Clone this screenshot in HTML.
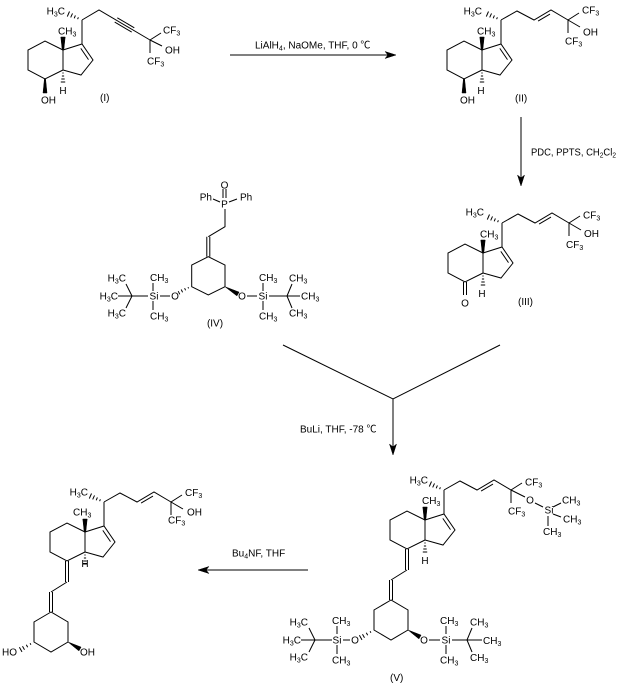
<!DOCTYPE html>
<html>
<head>
<meta charset="utf-8">
<style>
html,body{margin:0;padding:0;background:#fff;}
svg{display:block;}
path,line{stroke:#000;fill:none;stroke-width:1;}
polygon{fill:#000;stroke:#000;stroke-width:0.5;}
text{font-family:"Liberation Sans","Noto Sans CJK SC",Arial,sans-serif;font-size:10px;fill:#000;}
.s{font-size:7px;}
</style>
</head>
<body>
<svg width="618" height="690" viewBox="0 0 618 690" xmlns="http://www.w3.org/2000/svg">
<rect width="618" height="690" fill="#fff"/>

<!-- ===== Structure I ===== -->
<g transform="translate(63,50)">
  <path d="M0,0 L19,-6 L30,10 L18,25 L0,20 Z M0,0 L-18,-9 L-35,0 L-35,20 L-18,29 L0,20 M19,-6 L19,-30 M17.8,-1.6 L25.5,9.6"/>
  <polygon points="-0.8,0 0.8,0 2.2,-13 -2.2,-13"/>
  <path d="M-0.6,23 L0.6,23 M-1.1,26 L1.1,26 M-1.7,29 L1.7,29 M-2.2,32 L2.2,32"/>
  <path d="M15.4,-32.7 L14.6,-30.8 M12.4,-34.6 L11.2,-31.7 M9.5,-36.6 L7.7,-32.6 M6.5,-38.5 L4.3,-33.4"/>
  <text x="-5" y="-15.5">CH<tspan class="s" dy="2">3</tspan></text>
  <text x="0" y="44" text-anchor="middle">H</text>
  <text x="2" y="-35.5" text-anchor="end">H<tspan class="s" dy="2">3</tspan><tspan dy="-2">C</tspan></text>
  <path d="M19,-30 L36,-40 L87,-10 M51.7,-27.9 L68.7,-17.9 M54.3,-32.2 L71.3,-22.2"/>
  <path d="M87,-10 L98,-17 M87,-10 L99,-4 M87,-10 L87,3"/>
  <text x="100" y="-16.5">CF<tspan class="s" dy="2">3</tspan></text>
  <text x="102" y="3.5">OH</text>
  <text x="84" y="14.5">CF<tspan class="s" dy="2">3</tspan></text>
  <polygon points="-18.6,29 -17.4,29 -16,43 -20,43"/>
  <text x="-22" y="53.5">OH</text>
</g>
<text x="100" y="101">(I)</text>

<!-- ===== Structure II ===== -->
<g transform="translate(482,50)">
  <path d="M0,0 L19,-6 L30,10 L18,25 L0,20 Z M0,0 L-18,-9 L-35,0 L-35,20 L-18,29 L0,20 M19,-6 L19,-30 M17.8,-1.6 L25.5,9.6"/>
  <polygon points="-0.8,0 0.8,0 2.2,-13 -2.2,-13"/>
  <path d="M-0.6,23 L0.6,23 M-1.1,26 L1.1,26 M-1.7,29 L1.7,29 M-2.2,32 L2.2,32"/>
  <path d="M15.4,-32.7 L14.6,-30.8 M12.4,-34.6 L11.2,-31.7 M9.5,-36.6 L7.7,-32.6 M6.5,-38.5 L4.3,-33.4"/>
  <text x="-5" y="-15.5">CH<tspan class="s" dy="2">3</tspan></text>
  <text x="-1" y="44" text-anchor="middle">H</text>
  <text x="0" y="-35.5" text-anchor="end">H<tspan class="s" dy="2">3</tspan><tspan dy="-2">C</tspan></text>
  <path d="M19,-30 L35,-39 L52,-30 L69,-40 L86,-30 M56.1,-28.9 L68,-35.9"/>
  <path d="M86,-30 L97,-37 M86,-30 L98,-23 M86,-30 L86,-17"/>
  <text x="100" y="-36.5">CF<tspan class="s" dy="2">3</tspan></text>
  <text x="101" y="-14.5">OH</text>
  <text x="83" y="-5.5">CF<tspan class="s" dy="2">3</tspan></text>
  <polygon points="-18.6,29 -17.4,29 -16,43 -20,43"/>
  <text x="-22" y="53.5">OH</text>
</g>
<text x="515" y="101.5">(II)</text>

<!-- ===== Arrow 1 ===== -->
<path d="M230,55 L388,55"/>
<polygon points="396,55 385,51.5 388,55 385,58.5"/>
<text x="255" y="48.5">LiAlH<tspan class="s" dy="2">4</tspan><tspan dy="-2">, NaOMe, THF, 0 ℃</tspan></text>

<!-- ===== Arrow 2 ===== -->
<path d="M521,117 L521,178"/>
<polygon points="521,186 517.5,175 521,178 524.5,175"/>
<text x="531" y="155.5" textLength="85" lengthAdjust="spacingAndGlyphs">PDC, PPTS, CH<tspan class="s" dy="2">2</tspan><tspan dy="-2">Cl</tspan><tspan class="s" dy="2">2</tspan></text>

<!-- ===== Structure III ===== -->
<g transform="translate(483,253)">
  <path d="M0,0 L19,-6 L30,10 L18,25 L0,20 Z M0,0 L-18,-9 L-35,0 L-35,20 L-18,29 L0,20 M19,-6 L19,-30 M17.8,-1.6 L25.5,9.6"/>
  <polygon points="-0.8,0 0.8,0 2.2,-13 -2.2,-13"/>
  <path d="M-0.6,23 L0.6,23 M-1.1,26 L1.1,26 M-1.7,29 L1.7,29 M-2.2,32 L2.2,32"/>
  <path d="M15.4,-32.7 L14.6,-30.8 M12.4,-34.6 L11.2,-31.7 M9.5,-36.6 L7.7,-32.6 M6.5,-38.5 L4.3,-33.4"/>
  <text x="-3" y="-15.5">CH<tspan class="s" dy="2">3</tspan></text>
  <text x="-1" y="44" text-anchor="middle">H</text>
  <text x="1" y="-37.5" text-anchor="end">H<tspan class="s" dy="2">3</tspan><tspan dy="-2">C</tspan></text>
  <path d="M19,-30 L35,-39 L52,-30 L69,-40 L86,-30 M56.1,-28.9 L68,-35.9"/>
  <path d="M86,-30 L97,-37 M86,-30 L98,-23 M86,-30 L86,-17"/>
  <text x="100" y="-34.5">CF<tspan class="s" dy="2">3</tspan></text>
  <text x="101" y="-16">OH</text>
  <text x="83" y="-5">CF<tspan class="s" dy="2">3</tspan></text>
  <path d="M-19.5,29 L-19.5,42 M-16.5,29 L-16.5,42"/>
  <text x="-18" y="53.5" text-anchor="middle">O</text>
</g>
<text x="518" y="305">(III)</text>

<!-- ===== Structure IV ===== -->
<path d="M206.8,236.7 L206.8,256.7 M209.8,236.7 L209.8,256.7"/>
<path d="M208.3,236.7 L225,226.7 L225,209"/>
<text x="224.5" y="207.5" text-anchor="middle">P</text>
<path d="M223,198 L223,189 M226,198 L226,189"/>
<text x="224.5" y="188.5" text-anchor="middle">O</text>
<path d="M213,199 L220,202 M229,202 L237,199"/>
<text x="212" y="200.5" text-anchor="end">Ph</text>
<text x="240" y="200.5">Ph</text>
<path d="M208.3,256.7 L191.7,265 L191.7,286.7 L208.3,295 L225,286.7 L225,265 Z"/>
<path d="M188.6,288.4 L188,287.2 M185.6,290.3 L184.6,288.2 M182.6,292.3 L181.2,289.5 M179.8,294.3 L178.2,291.2"/>
<text x="175" y="299.5" text-anchor="middle">O</text>
<path d="M170,296 L160,296"/>
<text x="154" y="299.5" text-anchor="middle">Si</text>
<path d="M153,291 L153,283 M153,301 L153,310"/>
<text x="150" y="281">CH<tspan class="s" dy="2">3</tspan></text>
<text x="150" y="319.5">CH<tspan class="s" dy="2">3</tspan></text>
<path d="M148,296 L132,296 M132,296 L126,284 M132,296 L118,296 M132,296 L126,308"/>
<text x="126" y="281.5" text-anchor="end">H<tspan class="s" dy="2">3</tspan><tspan dy="-2">C</tspan></text>
<text x="118" y="299.5" text-anchor="end">H<tspan class="s" dy="2">3</tspan><tspan dy="-2">C</tspan></text>
<text x="126" y="316.5" text-anchor="end">H<tspan class="s" dy="2">3</tspan><tspan dy="-2">C</tspan></text>
<polygon points="225,286.7 236.9,295.9 239.1,292.1"/>
<text x="242" y="299.5" text-anchor="middle">O</text>
<path d="M247,296 L257,296"/>
<text x="263" y="299.5" text-anchor="middle">Si</text>
<path d="M263,291 L263,283 M263,301 L263,310"/>
<text x="259" y="281">CH<tspan class="s" dy="2">3</tspan></text>
<text x="259" y="319.5">CH<tspan class="s" dy="2">3</tspan></text>
<path d="M269,296 L287,296 M287,296 L292,284 M287,296 L300,296 M287,296 L292,308"/>
<text x="289" y="281.5">CH<tspan class="s" dy="2">3</tspan></text>
<text x="301" y="299.5">CH<tspan class="s" dy="2">3</tspan></text>
<text x="289" y="316.5">CH<tspan class="s" dy="2">3</tspan></text>
<text x="215" y="326.5" text-anchor="middle">(IV)</text>

<!-- ===== Converging arrow ===== -->
<path d="M283,345 L393,399 L500,345 M393,399 L393,447"/>
<polygon points="393,455 389.5,444 393,447 396.5,444"/>
<text x="300" y="432.5">BuLi, THF, -78 ℃</text>

<!-- ===== Structure V ===== -->
<g transform="translate(425,520)">
  <path d="M0,0 L19,-6 L30,10 L18,25 L0,20 Z M0,0 L-18,-9 L-35,0 L-35,20 L-18,29 L0,20 M19,-6 L19,-30 M17.8,-1.6 L25.5,9.6"/>
  <polygon points="-0.8,0 0.8,0 2.2,-13 -2.2,-13"/>
  <path d="M-0.6,23 L0.6,23 M-1.1,26 L1.1,26 M-1.7,29 L1.7,29 M-2.2,32 L2.2,32"/>
  <path d="M15.4,-32.7 L14.6,-30.8 M12.4,-34.6 L11.2,-31.7 M9.5,-36.6 L7.7,-32.6 M6.5,-38.5 L4.3,-33.4"/>
  <text x="-3" y="-16">CH<tspan class="s" dy="2">3</tspan></text>
  <text x="0" y="44" text-anchor="middle">H</text>
  <text x="3" y="-36.5" text-anchor="end">H<tspan class="s" dy="2">3</tspan><tspan dy="-2">C</tspan></text>
  <path d="M19,-30 L35,-39 L52,-30 L69,-40 L86,-30 M56.1,-28.9 L68,-35.9"/>
  <path d="M86,-30 L97,-37 M86,-30 L100,-23 M86,-30 L86,-17"/>
  <text x="100" y="-34.5">CF<tspan class="s" dy="2">3</tspan></text>
  <text x="105" y="-16.5" text-anchor="middle">O</text>
  <path d="M110,-17 L118,-13"/>
  <text x="124" y="-6.5" text-anchor="middle">Si</text>
  <path d="M128,-13 L136,-17 M128,-6 L136,-3 M123,-4 L123,6"/>
  <text x="137" y="-16.5">CH<tspan class="s" dy="2">3</tspan></text>
  <text x="138" y="2.5">CH<tspan class="s" dy="2">3</tspan></text>
  <text x="118" y="15">CH<tspan class="s" dy="2">3</tspan></text>
  <text x="83" y="-5.5">CF<tspan class="s" dy="2">3</tspan></text>
  <path d="M-19.5,29 L-19.5,50 M-16.5,29 L-16.5,50 M-18,50 L-34,60 M-35.5,60 L-35.5,80 M-32.5,60 L-32.5,80"/>
  <path d="M-34,80 L-51,90 L-51,110 L-34,120 L-17,110 L-17,90 Z"/>
</g>
<path d="M370.9,632.7 L370.1,631.3 M367.7,635.2 L366.3,632.8 M364.5,637.7 L362.5,634.3 M362,639.9 L359.4,635.3"/>
<text x="355" y="643.5" text-anchor="middle">O</text>
<path d="M350,640 L343,640"/>
<text x="337" y="643.5" text-anchor="middle">Si</text>
<path d="M337,634 L337,626 M337,645 L337,654"/>
<text x="332" y="624">CH<tspan class="s" dy="2">3</tspan></text>
<text x="332" y="663.5">CH<tspan class="s" dy="2">3</tspan></text>
<path d="M332,640 L315,640 M315,640 L309,628 M315,640 L301,640 M315,640 L309,652"/>
<text x="308" y="625.5" text-anchor="end">H<tspan class="s" dy="2">3</tspan><tspan dy="-2">C</tspan></text>
<text x="301" y="643.5" text-anchor="end">H<tspan class="s" dy="2">3</tspan><tspan dy="-2">C</tspan></text>
<text x="308" y="660.5" text-anchor="end">H<tspan class="s" dy="2">3</tspan><tspan dy="-2">C</tspan></text>
<polygon points="408,630 418.9,638.9 421.1,635.1"/>
<text x="424" y="643.5" text-anchor="middle">O</text>
<path d="M429,640 L440,640"/>
<text x="446" y="643.5" text-anchor="middle">Si</text>
<path d="M446,634 L446,626 M446,645 L446,654"/>
<text x="440" y="624">CH<tspan class="s" dy="2">3</tspan></text>
<text x="440" y="663.5">CH<tspan class="s" dy="2">3</tspan></text>
<path d="M452,640 L467,640 M467,640 L472,628 M467,640 L482,640 M467,640 L472,652"/>
<text x="470" y="625.5">CH<tspan class="s" dy="2">3</tspan></text>
<text x="483" y="644">CH<tspan class="s" dy="2">3</tspan></text>
<text x="470" y="661">CH<tspan class="s" dy="2">3</tspan></text>
<text x="390" y="681">(V)</text>

<!-- ===== Arrow 4 ===== -->
<path d="M308,570 L206,570"/>
<polygon points="198,570 209,566.5 206,570 209,573.5"/>
<text x="232" y="556.5">Bu<tspan class="s" dy="2">4</tspan><tspan dy="-2">NF, THF</tspan></text>

<!-- ===== Final product ===== -->
<g transform="translate(85,532)">
  <path d="M0,0 L19,-6 L30,10 L18,25 L0,20 Z M0,0 L-18,-9 L-35,0 L-35,20 L-18,29 L0,20 M19,-6 L19,-30 M17.8,-1.6 L25.5,9.6"/>
  <polygon points="-0.8,0 0.8,0 2.2,-13 -2.2,-13"/>
  <path d="M-0.6,23 L0.6,23 M-1.1,26 L1.1,26 M-1.7,29 L1.7,29 M-2.2,32 L2.2,32"/>
  <path d="M15.4,-32.7 L14.6,-30.8 M12.4,-34.6 L11.2,-31.7 M9.5,-36.6 L7.7,-32.6 M6.5,-38.5 L4.3,-33.4"/>
  <text x="-12" y="-16.5">CH<tspan class="s" dy="2">3</tspan></text>
  <text x="0" y="35" text-anchor="middle">H</text>
  <text x="3" y="-36.5" text-anchor="end">H<tspan class="s" dy="2">3</tspan><tspan dy="-2">C</tspan></text>
  <path d="M19,-30 L35,-39 L52,-30 L69,-40 L86,-30 M56.1,-28.9 L68,-35.9"/>
  <path d="M86,-30 L97,-37 M86,-30 L98,-23 M86,-30 L86,-17"/>
  <text x="100" y="-36">CF<tspan class="s" dy="2">3</tspan></text>
  <text x="102" y="-16.5">OH</text>
  <text x="83" y="-8.5">CF<tspan class="s" dy="2">3</tspan></text>
  <path d="M-19.5,29 L-19.5,50 M-16.5,29 L-16.5,50 M-18,50 L-34,60 M-35.5,60 L-35.5,80 M-32.5,60 L-32.5,80"/>
  <path d="M-34,80 L-51,90 L-51,110 L-34,120 L-17,110 L-17,90 Z"/>
</g>
<path d="M30.9,644.7 L30.1,643.3 M27.7,647.2 L26.3,644.8 M24.5,649.7 L22.5,646.3 M22,651.9 L19.4,647.3"/>
<text x="17" y="655.5" text-anchor="end">HO</text>
<polygon points="68,642 78.9,650.9 81.1,647.1"/>
<text x="80" y="655.5">OH</text>

</svg>
</body>
</html>
